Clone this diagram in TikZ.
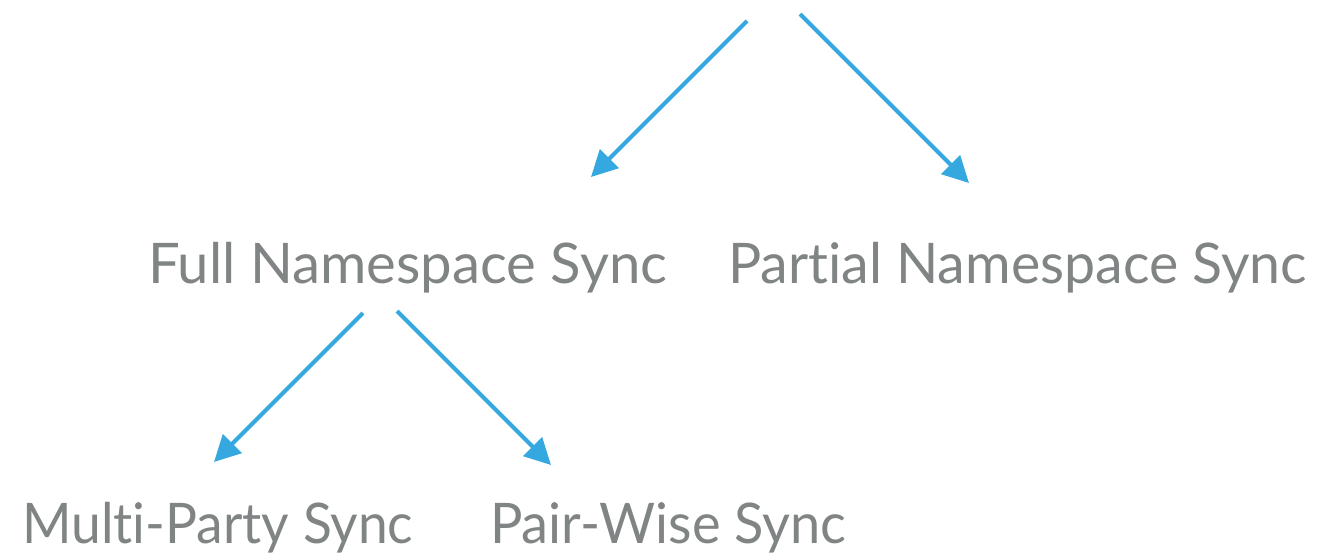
\documentclass[tikz,border=0pt]{standalone}
\usepackage{fontspec}
\setmainfont[Ligatures=NoCommon]{Lato}
\usetikzlibrary{arrows.meta}
\definecolor{txtgray}{HTML}{808484}
\definecolor{arrowblue}{HTML}{35A8E0}
\tikzset{
  lbl/.style={inner sep=0pt, anchor=base west, text=txtgray, font=\fontsize{56}{60}\selectfont},
  conn/.style={draw=arrowblue, line width=4pt, -{Triangle[length=26pt,width=26pt]}}
}
\begin{document}
\begin{tikzpicture}[x=1pt,y=-1pt]
\useasboundingbox (0,0) rectangle (1331,552);
\node[lbl] (full) at (148,283) {\scalebox{1.005}[1]{Full Namespace Sync}};
\node[lbl] (partial) at (728,283) {\scalebox{0.99}[1]{Partial Namespace Sync}};
\node[lbl] (multi) at (22,543) {\scalebox{0.953}[1]{Multi-Party Sync}};
\node[lbl] (pair) at (490,543) {\scalebox{0.967}[1]{Pair-Wise Sync}};
\coordinate (rootL) at (747,21);
\coordinate (rootR) at (800,14);
\coordinate (fullIn) at (591,177);
\coordinate (partialIn) at (969,183);
\coordinate (fullOutL) at (363,313);
\coordinate (fullOutR) at (397,311);
\coordinate (multiIn) at (214,462);
\coordinate (pairIn) at (551,465);
\draw[conn] (rootL) -- (fullIn);
\draw[conn] (rootR) -- (partialIn);
\draw[conn] (fullOutL) -- (multiIn);
\draw[conn] (fullOutR) -- (pairIn);
\end{tikzpicture}
\end{document}
